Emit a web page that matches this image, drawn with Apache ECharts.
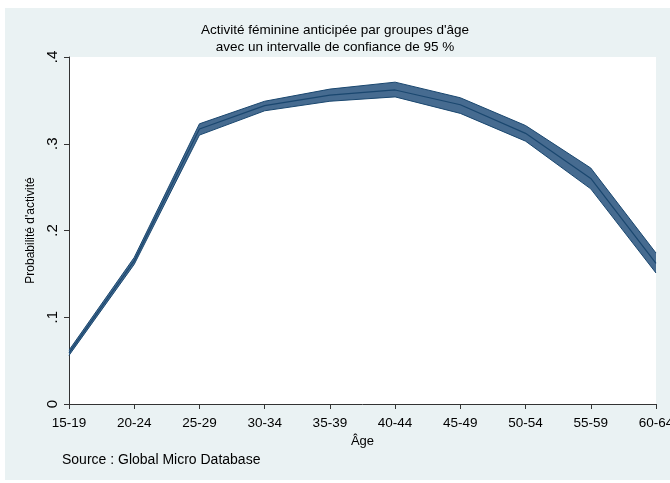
<!DOCTYPE html>
<html>
<head>
<meta charset="utf-8">
<script src="https://cdn.jsdelivr.net/npm/echarts@6/dist/echarts.min.js"></script>
<style>
  html, body { margin: 0; padding: 0; background: #fff; }
  #chart { width: 670px; height: 483px; }
</style>
</head>
<body>
<div id="chart"></div>
<script>
// age groups and estimated probabilities
const ageGroups = ['15-19', '20-24', '25-29', '30-34', '35-39', '40-44', '45-49', '50-54', '55-59', '60-64'];
const meanValues = [0.059, 0.165, 0.317, 0.344, 0.356, 0.362, 0.345, 0.312, 0.260, 0.162];
const lowerValues = [0.056, 0.161, 0.310, 0.338, 0.349, 0.354, 0.335, 0.303, 0.248, 0.151];
const upperValues = [0.062, 0.169, 0.323, 0.349, 0.363, 0.371, 0.353, 0.321, 0.272, 0.174];
const yTicks = [0, 0.1, 0.2, 0.3, 0.4];

const font = 'Liberation Sans, Arial, sans-serif';
const edge = '#1a476f';
const band = '#466b90';

const chart = echarts.init(document.getElementById('chart'), null, { renderer: 'canvas' });

const tickLabel = v => {
  const hit = yTicks.find(t => Math.abs(t - v) < 1e-9);
  if (hit === undefined) return '';
  return hit === 0 ? '0' : String(hit).replace(/^0/, '');
};

chart.setOption({
  backgroundColor: '#fff',
  animation: false,
  textStyle: { fontFamily: font },
  title: {
    text: 'Activité féminine anticipée par groupes d\'âge\navec un intervalle de confiance de 95 %',
    left: 'center',
    top: 17,
    textStyle: { fontFamily: font, fontSize: 13.5, fontWeight: 'normal', color: '#000', lineHeight: 17 }
  },
  graphic: [
    {
      type: 'rect',
      z: -10,
      shape: { x: 5, y: 8, width: 665, height: 472 },
      style: { fill: '#eaf2f3' }
    },
    {
      type: 'text',
      left: 62,
      top: 453,
      style: { text: 'Source : Global Micro Database', font: '14px ' + font, fill: '#000' }
    }
  ],
  grid: {
    left: 69, right: 14, top: 57, bottom: 79,
    outerBoundsMode: 'none',
    containLabel: false,
    show: true, backgroundColor: '#fff', borderWidth: 0
  },
  xAxis: {
    type: 'category',
    data: ageGroups,
    boundaryGap: false,
    name: 'Âge',
    nameLocation: 'middle',
    nameGap: 27,
    nameTextStyle: { fontFamily: font, fontSize: 13, color: '#000' },
    axisLine: { lineStyle: { color: '#333', width: 1 } },
    axisTick: { alignWithLabel: true, length: 5, lineStyle: { color: '#333' } },
    axisLabel: { interval: 0, fontFamily: font, fontSize: 13.5, color: '#000', margin: 12 },
    splitLine: { show: false }
  },
  yAxis: {
    type: 'value',
    min: 0,
    max: 0.4,
    interval: 0.1,
    name: 'Probabilité d\'activité',
    nameLocation: 'middle',
    nameGap: 24,
    nameTextStyle: { fontFamily: font, fontSize: 12, color: '#000' },
    axisLine: { show: true, lineStyle: { color: '#333', width: 1 } },
    axisTick: { show: true, length: 5, lineStyle: { color: '#333' } },
    axisLabel: { rotate: 90, fontFamily: font, fontSize: 15, color: '#000', margin: 9, formatter: tickLabel },
    splitLine: { show: false }
  },
  series: [
    {
      type: 'line',
      name: 'lower',
      data: lowerValues,
      stack: 'ci',
      symbol: 'none',
      lineStyle: { color: edge, width: 1 },
      z: 3
    },
    {
      type: 'line',
      name: 'band',
      data: upperValues.map((u, i) => u - lowerValues[i]),
      stack: 'ci',
      symbol: 'none',
      lineStyle: { color: edge, width: 1 },
      areaStyle: { color: band, opacity: 1 },
      z: 2
    },
    {
      type: 'line',
      name: 'mean',
      data: meanValues,
      symbol: 'none',
      lineStyle: { color: edge, width: 1.2 },
      z: 4
    }
  ]
});
</script>
</body>
</html>
